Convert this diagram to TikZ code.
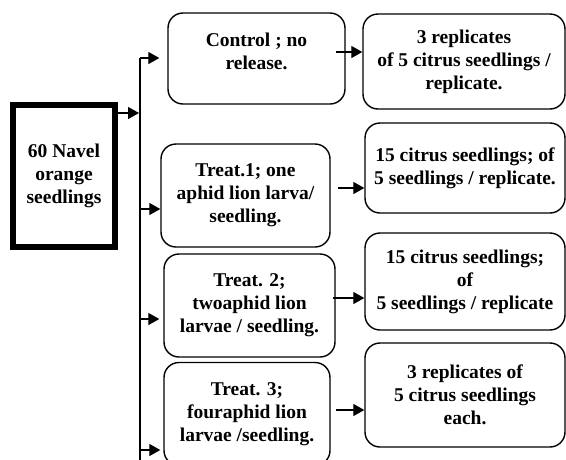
\documentclass[tikz,border=0pt]{standalone}
\usepackage{fontspec}
\setmainfont{Liberation Serif}
\usetikzlibrary{arrows.meta,positioning}
\tikzset{
  seedbox/.style ={draw,line width=6pt,minimum width=102pt,minimum height=142pt,align=center,inner sep=1pt},
  stepbox/.style ={draw,rounded corners=15pt,line width=1.4pt,align=center,inner sep=1pt},
  arr/.style     ={-{Triangle[length=11pt,width=12pt]},line width=1.3pt},
  spine/.style   ={line width=1.3pt},
  txt/.style     ={font=\bfseries\fontsize{19.5}{23}\selectfont},
}

\begin{document}
\begin{tikzpicture}[x=1pt,y=-1pt,txt]
  \useasboundingbox (0,0) rectangle (566,459);
  % starting material
  \node[seedbox] (src) at (64,176) {60 Navel\\orange\\seedlings};
  % control and the three treatments
  \node[stepbox,minimum width=177pt,minimum height=91pt] (ctl) at (256.5,58.5)
        {Control ; no\\release.\\[-8pt]\mbox{}};
  \node[stepbox,minimum width=169pt,minimum height=103pt] (tA) at (245.5,195.5)
        {Treat.1; one\\aphid lion larva/\\seedling.};
  \node[stepbox,minimum width=171pt,minimum height=103pt] (tB) at (249.5,305.5)
        {Treat. 2;\\twoaphid lion\\larvae / seedling.};
  \node[stepbox,minimum width=166pt,minimum height=103pt] (tC) at (247,414)
        {Treat. 3;\\fouraphid lion\\larvae /seedling.};
  % replicate layout of each group
  \node[stepbox,minimum width=202pt,minimum height=95pt] (rA) at (464,61.5)
        {3 replicates\\of 5 citrus seedlings /\\replicate.};
  \node[stepbox,minimum width=200pt,minimum height=90pt] (rB) at (465,168)
        {15 citrus seedlings; of\\5 seedlings / replicate.};
  \node[stepbox,minimum width=200pt,minimum height=97pt] (rC) at (465,281.5)
        {15 citrus seedlings;\\of\\5 seedlings / replicate};
  \node[stepbox,minimum width=200pt,minimum height=104pt] (rD) at (465,395)
        {3 replicates of\\5 citrus seedlings\\each.};
  % branching line
  \coordinate (top) at (140,58);
  \coordinate (bot) at (140,462);
  \draw[spine] (top) -- (bot);
  \coordinate (j0) at (139,113);
  \draw[arr] (src.east |- j0) -- (j0);
  \foreach \n/\y/\g in {ctl/58/8, tA/209/0, tB/319/4, tC/450/3}{
    \coordinate (b\n) at (140,\y);
    \draw[arr] (b\n) -- ([xshift=-\g pt]\n.west |- b\n);
  }
  % group -> replicates
  \foreach \p/\q/\y/\s in {ctl/rA/52/-10, tA/rB/188/7, tB/rC/298/-3, tC/rD/410/5}{
    \coordinate (h\p) at (0,\y);
    \path ([xshift=\s pt]\p.east) coordinate (e\p);
    \draw[arr] (e\p |- h\p) -- (\q.west |- h\p);
  }
\end{tikzpicture}
\end{document}
